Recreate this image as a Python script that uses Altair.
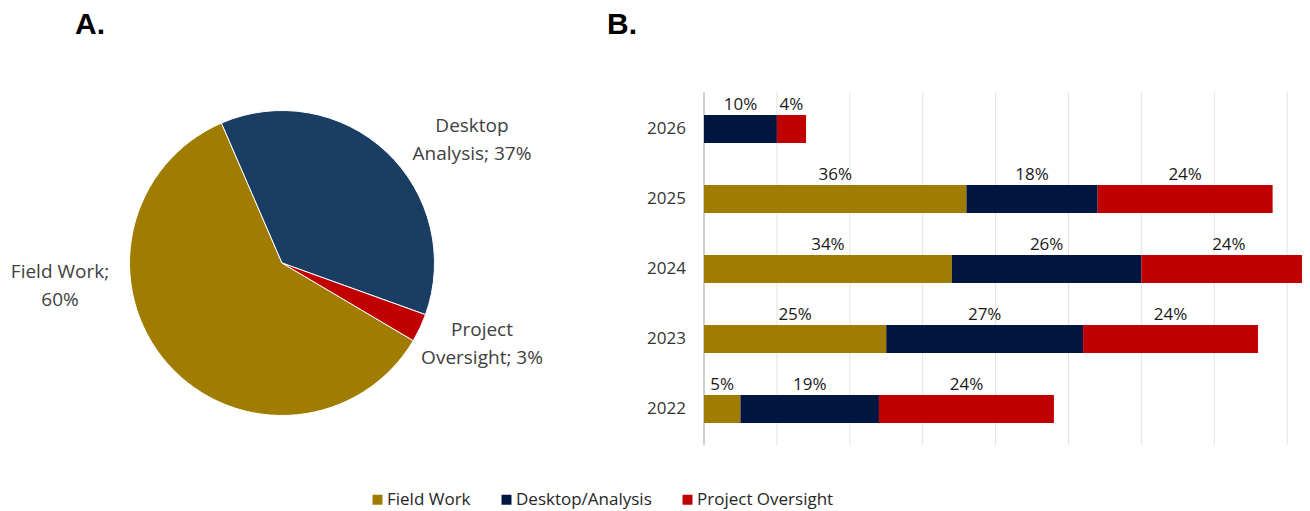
import math
import altair as alt
import pandas as pd

# ---------------- data ----------------
years = ["2026", "2025", "2024", "2023", "2022"]
field_work = [None, 36, 34, 25, 5]
desktop = [10, 18, 26, 27, 19]
oversight = [4, 24, 24, 24, 24]
bar_series = ["Field Work", "Desktop/Analysis", "Project Oversight"]
bar_colors = ["#A07C00", "#001641", "#C00000"]
grid_ticks = [10, 20, 30, 40, 50, 60, 70, 80, 90]

pie_categories = ["Field Work", "Desktop Analysis", "Project Oversight"]
pie_values = [60, 37, 3]
pie_colors = ["#A07C00", "#1A3D63", "#C00000"]
pie_draw_order = ["Desktop Analysis", "Project Oversight", "Field Work"]

panel_titles = ["A.", "B."]

# ---------------- tables ----------------
rows = []
for i, yr in enumerate(years):
    start = 0
    for name, vals in zip(bar_series, [field_work, desktop, oversight]):
        v = vals[i]
        if v is None:
            continue
        rows.append({"year": yr, "series": name, "value": v,
                     "start": start, "end": start + v, "mid": start + v / 2,
                     "label": f"{v}%"})
        start += v
bars_df = pd.DataFrame(rows)


def wrap(cat, val):
    if cat == "Field Work":
        return f"{cat};\n{val}%"
    first, rest = cat.split(" ", 1)
    return f"{first}\n{rest}; {val}%"


pie_df = pd.DataFrame({
    "category": pie_categories,
    "value": pie_values,
    "ord": [pie_draw_order.index(c) for c in pie_categories],
    "label": [wrap(c, v) for c, v in zip(pie_categories, pie_values)],
})
grid_df = pd.DataFrame({"tick": grid_ticks})
axis_df = pd.DataFrame({"tick": [0]})
years_df = pd.DataFrame({"year": years})
titles_df = pd.DataFrame({"t": panel_titles})

FONT = "Open Sans"
xscale = alt.Scale(domain=[0, 100], range=[696, 1425])
yscale = alt.Scale(domain=years, range=[86, 436], paddingInner=0.6, paddingOuter=0.3)

# ---------------- pie ----------------
start_angle = math.radians(-23.4)
pie = alt.Chart(pie_df).mark_arc(outerRadius=152.5, stroke="white", strokeWidth=1).encode(
    theta=alt.Theta("value:Q", stack=True,
                    scale=alt.Scale(range=[start_angle, start_angle + 2 * math.pi])),
    order=alt.Order("ord:Q"),
    color=alt.Color("category:N", scale=alt.Scale(domain=pie_categories, range=pie_colors),
                    legend=None),
    x=alt.value(274), y=alt.value(255),
)

# position of the first line of each label (view pixels)
label_pos = {"Field Work": (52, 264), "Desktop Analysis": (464, 118),
             "Project Oversight": (474, 322)}
pie_labels = []
for cat in pie_categories:
    px, py = label_pos[cat]
    pie_labels.append(
        alt.Chart(pie_df).transform_filter(alt.datum.category == cat)
        .mark_text(font=FONT, fontSize=19, color="#404040", align="center",
                   baseline="middle", lineBreak="\n", lineHeight=28)
        .encode(x=alt.value(px), y=alt.value(py), text="label:N")
    )

# ---------------- bars ----------------
grid = alt.Chart(grid_df).mark_rule(color="#E3E3E3", strokeWidth=1).encode(
    x=alt.X("tick:Q", scale=xscale, axis=None),
    y=alt.value(84), y2=alt.value(437),
)
axis_line = alt.Chart(axis_df).mark_rule(color="#CFCFCF", strokeWidth=2).encode(
    x=alt.X("tick:Q", scale=xscale, axis=None),
    y=alt.value(84), y2=alt.value(437),
)

bars = alt.Chart(bars_df).mark_bar().encode(
    x=alt.X("start:Q", scale=xscale, axis=None),
    x2="end:Q",
    y=alt.Y("year:N", scale=yscale, axis=None),
    color=alt.Color("series:N", scale=alt.Scale(domain=bar_series, range=bar_colors),
                    legend=alt.Legend(orient="none", legendX=361, legendY=483,
                                      direction="horizontal", title=None,
                                      symbolType="square", symbolSize=100,
                                      symbolStrokeWidth=0, labelFont=FONT,
                                      labelFontSize=17, labelColor="#262626",
                                      labelOffset=1, columnPadding=27)),
)

bar_text = alt.Chart(bars_df).mark_text(font=FONT, fontSize=17, color="#1A1A1A",
                                        baseline="middle", align="center", dy=-24).encode(
    x=alt.X("mid:Q", scale=xscale, axis=None),
    y=alt.Y("year:N", scale=yscale, axis=None),
    text="label:N",
)

year_text = alt.Chart(years_df).mark_text(font=FONT, fontSize=17, color="#333333",
                                          align="right", baseline="middle").encode(
    x=alt.value(678),
    y=alt.Y("year:N", scale=yscale, axis=None),
    text="year:N",
)

title_a = alt.Chart(titles_df).transform_filter(alt.datum.t == "A.").mark_text(
    font="Liberation Sans", fontWeight="bold", fontSize=30, color="#000000",
    align="left", baseline="middle").encode(x=alt.value(67), y=alt.value(17), text="t:N")
title_b = alt.Chart(titles_df).transform_filter(alt.datum.t == "B.").mark_text(
    font="Liberation Sans", fontWeight="bold", fontSize=30, color="#000000",
    align="left", baseline="middle").encode(x=alt.value(599), y=alt.value(17), text="t:N")

chart = alt.layer(
    pie, *pie_labels, grid, axis_line, bars, bar_text, year_text, title_a, title_b
).resolve_scale(color="independent").properties(
    width=1294, height=503, padding=0,
    autosize=alt.AutoSizeParams(type="none"),
).configure_view(stroke=None)

chart.save("out.html", embed_options={"renderer": "svg", "actions": False})
